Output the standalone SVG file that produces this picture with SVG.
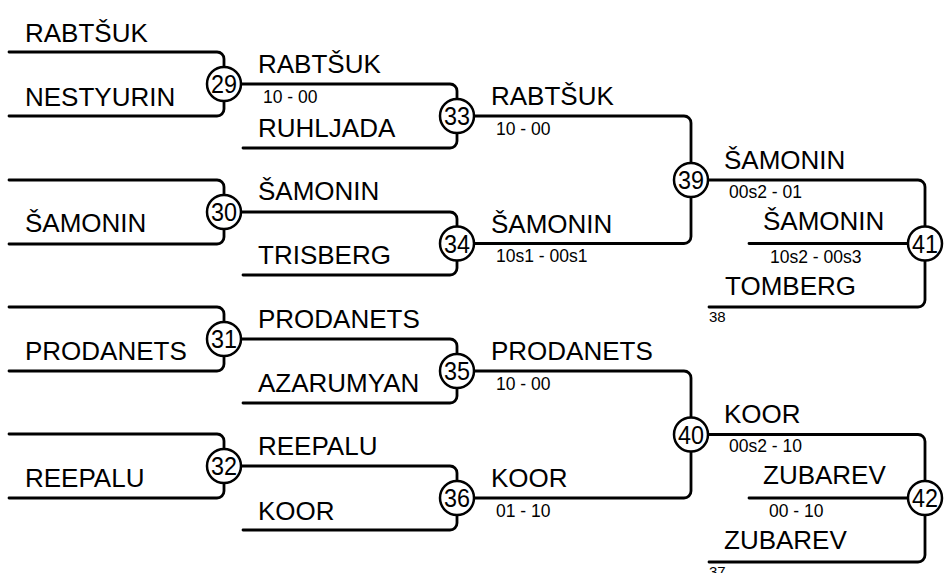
<svg xmlns="http://www.w3.org/2000/svg" width="946" height="573" viewBox="0 0 946 573">
<style>
.ln{fill:none;stroke:#000;stroke-width:2.8;stroke-linecap:round;stroke-linejoin:round}
.c{fill:#fff;stroke:#000;stroke-width:2.5}
.n{font-family:"Liberation Sans",Arial,sans-serif;font-size:25.5px;text-anchor:middle;fill:#000}
.t{font-family:"Liberation Sans",Arial,sans-serif;font-size:26px;fill:#000}
.s{font-family:"Liberation Sans",Arial,sans-serif;font-size:17.5px;fill:#000}
.f{font-family:"Liberation Sans",Arial,sans-serif;font-size:15px;fill:#000}
</style>
<rect width="946" height="573" fill="#fff"/>
<g id="connectors" class="ln">
<path d="M9 52H217A7 7 0 0 1 224 59V67M9 116H217A7 7 0 0 0 224 109V101"/>
<path d="M9 180H217A7 7 0 0 1 224 187V195M9 244H217A7 7 0 0 0 224 237V229"/>
<path d="M9 307H217A7 7 0 0 1 224 314V322M9 371H217A7 7 0 0 0 224 364V356"/>
<path d="M9 434H217A7 7 0 0 1 224 441V449M9 498H217A7 7 0 0 0 224 491V483"/>
<path d="M241 84H450A7 7 0 0 1 457 91V99M243 148H450A7 7 0 0 0 457 141V133"/>
<path d="M241 212H450A7 7 0 0 1 457 219V226.5M243 275H450A7 7 0 0 0 457 268V260.5"/>
<path d="M241 339H450A7 7 0 0 1 457 346V354M243 403H450A7 7 0 0 0 457 396V388"/>
<path d="M241 466H450A7 7 0 0 1 457 473V481M243 530H450A7 7 0 0 0 457 523V515"/>
<path d="M474 116H684A7 7 0 0 1 691 123V163M474 243.5H684A7 7 0 0 0 691 236.5V197"/>
<path d="M474 371H684A7 7 0 0 1 691 378V417.5M474 498H684A7 7 0 0 0 691 491V451.5"/>
<path d="M708 180H918A7 7 0 0 1 925 187V226.5M749 243.5H908M709 307H918A7 7 0 0 0 925 300V260.5"/>
<path d="M708 434.5H918A7 7 0 0 1 925 441.5V481M749 498H908M709 562H918A7 7 0 0 0 925 555V515"/>
</g>
<g id="m29"><circle class="c" cx="224" cy="84" r="17"/><text class="n" x="224" y="93" textLength="26" lengthAdjust="spacingAndGlyphs">29</text></g>
<g id="m30"><circle class="c" cx="224" cy="212" r="17"/><text class="n" x="224" y="221" textLength="26" lengthAdjust="spacingAndGlyphs">30</text></g>
<g id="m31"><circle class="c" cx="224" cy="339" r="17"/><text class="n" x="224" y="348" textLength="26" lengthAdjust="spacingAndGlyphs">31</text></g>
<g id="m32"><circle class="c" cx="224" cy="466" r="17"/><text class="n" x="224" y="475" textLength="26" lengthAdjust="spacingAndGlyphs">32</text></g>
<g id="m33"><circle class="c" cx="457" cy="116" r="17"/><text class="n" x="457" y="125" textLength="26" lengthAdjust="spacingAndGlyphs">33</text></g>
<g id="m34"><circle class="c" cx="457" cy="243.5" r="17"/><text class="n" x="457" y="252.5" textLength="26" lengthAdjust="spacingAndGlyphs">34</text></g>
<g id="m35"><circle class="c" cx="457" cy="371" r="17"/><text class="n" x="457" y="380" textLength="26" lengthAdjust="spacingAndGlyphs">35</text></g>
<g id="m36"><circle class="c" cx="457" cy="498" r="17"/><text class="n" x="457" y="507" textLength="26" lengthAdjust="spacingAndGlyphs">36</text></g>
<g id="m39"><circle class="c" cx="691" cy="180" r="17"/><text class="n" x="691" y="189" textLength="26" lengthAdjust="spacingAndGlyphs">39</text></g>
<g id="m40"><circle class="c" cx="691" cy="434.5" r="17"/><text class="n" x="691" y="443.5" textLength="26" lengthAdjust="spacingAndGlyphs">40</text></g>
<g id="m41"><circle class="c" cx="925" cy="243.5" r="17"/><text class="n" x="925" y="252.5" textLength="26" lengthAdjust="spacingAndGlyphs">41</text></g>
<g id="m42"><circle class="c" cx="925" cy="498" r="17"/><text class="n" x="925" y="507" textLength="26" lengthAdjust="spacingAndGlyphs">42</text></g>
<g id="round1">
<text class="t" x="25" y="41.5">RABTŠUK</text>
<text class="t" x="25" y="106">NESTYURIN</text>
<text class="t" x="25" y="232">ŠAMONIN</text>
<text class="t" x="25" y="360">PRODANETS</text>
<text class="t" x="25" y="487">REEPALU</text>
</g>
<g id="round2">
<text class="t" x="258" y="73">RABTŠUK</text>
<text class="s" x="263" y="103">10 - 00</text>
<text class="t" x="258" y="137">RUHLJADA</text>
<text class="t" x="258" y="200">ŠAMONIN</text>
<text class="t" x="258" y="264">TRISBERG</text>
<text class="t" x="258" y="327.5">PRODANETS</text>
<text class="t" x="258" y="392">AZARUMYAN</text>
<text class="t" x="258" y="455">REEPALU</text>
<text class="t" x="258" y="520">KOOR</text>
</g>
<g id="round3">
<text class="t" x="491" y="105">RABTŠUK</text>
<text class="s" x="496" y="135">10 - 00</text>
<text class="t" x="491" y="233">ŠAMONIN</text>
<text class="s" x="496" y="262">10s1 - 00s1</text>
<text class="t" x="491" y="360">PRODANETS</text>
<text class="s" x="496" y="390">10 - 00</text>
<text class="t" x="491" y="487">KOOR</text>
<text class="s" x="496" y="517">01 - 10</text>
</g>
<g id="round4">
<text class="t" x="724" y="169">ŠAMONIN</text>
<text class="s" x="729" y="198">00s2 - 01</text>
<text class="t" x="763" y="230">ŠAMONIN</text>
<text class="s" x="770" y="263">10s2 - 00s3</text>
<text class="t" x="725" y="295">TOMBERG</text>
<text class="f" x="709" y="322">38</text>
<text class="t" x="724" y="423">KOOR</text>
<text class="s" x="729" y="452">00s2 - 10</text>
<text class="t" x="763" y="484">ZUBAREV</text>
<text class="s" x="769" y="517">00 - 10</text>
<text class="t" x="724" y="549">ZUBAREV</text>
<text class="f" x="709" y="577">37</text>
</g>
</svg>
